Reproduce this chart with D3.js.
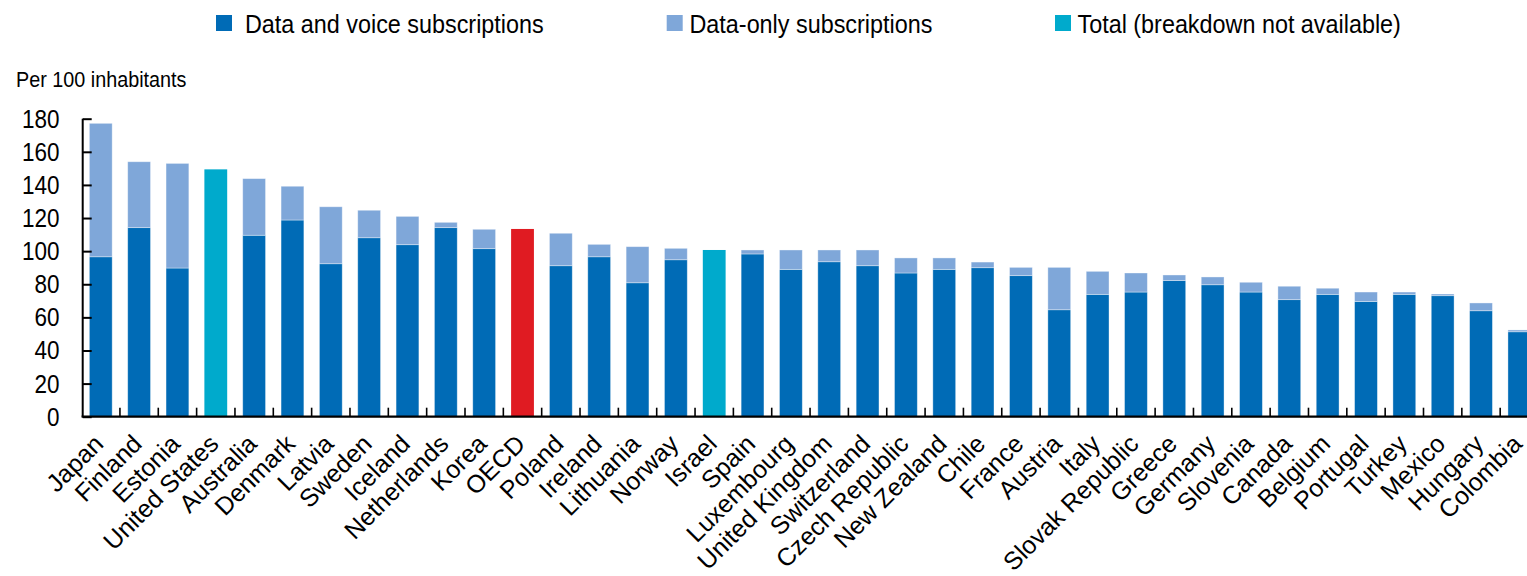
<!DOCTYPE html>
<html>
<head>
<meta charset="utf-8">
<script src="https://cdn.jsdelivr.net/npm/d3@7"></script>
<style>
  html, body { margin: 0; padding: 0; background: #fff; }
  svg { display: block; }
  text { font-family: "Liberation Sans", Arial, sans-serif; fill: #000; }
</style>
</head>
<body>
<svg id="chart" width="1527" height="576"></svg>
<script>
// ---- Data (per 100 inhabitants) ----
const categories = ["Japan","Finland","Estonia","United States","Australia","Denmark","Latvia","Sweden","Iceland","Netherlands","Korea","OECD","Poland","Ireland","Lithuania","Norway","Israel","Spain","Luxembourg","United Kingdom","Switzerland","Czech Republic","New Zealand","Chile","France","Austria","Italy","Slovak Republic","Greece","Germany","Slovenia","Canada","Belgium","Portugal","Turkey","Mexico","Hungary","Colombia"];
const dataAndVoice = [96.6,114.2,89.8,null,109.6,118.8,92.4,108.1,103.9,114.2,101.5,null,91.2,96.6,80.9,94.8,null,98.3,89.0,93.6,91.2,86.8,89.0,90.0,85.2,64.6,73.9,75.3,82.2,79.7,75.3,70.7,73.9,69.6,73.9,73.1,64.0,51.3];
const dataOnly = [80.6,39.8,63.2,null,34.2,20.4,34.4,16.6,17.1,3.2,11.7,null,19.6,7.5,21.8,6.9,null,2.4,11.7,7.1,9.5,9.1,6.9,3.4,5.0,25.6,13.9,11.5,3.4,4.7,5.9,8.1,3.7,5.7,1.4,1.0,4.7,1.1];
const totalOnly = [null,null,null,149.4,null,null,null,null,null,null,null,113.4,null,null,null,null,100.7,null,null,null,null,null,null,null,null,null,null,null,null,null,null,null,null,null,null,null,null,null];
const highlight = "OECD";
const yTicks = [0,20,40,60,80,100,120,140,160,180];
const seriesNames = ["Data and voice subscriptions","Data-only subscriptions","Total (breakdown not available)"];
const yTitle = "Per 100 inhabitants";

// ---- Styles ----
const C_DV = "#006BB6", C_DO = "#7FA7D9", C_TOT = "#00AACC", C_HL = "#E01B22";
const svg = d3.select("#chart");

const x = d3.scaleBand().domain(categories).range([81.6, 81.6 + 38.34 * categories.length]).padding(0);
const y = d3.scaleLinear().domain([0, 180]).range([416.7, 118.7]);
const barW = x.bandwidth() * 0.595;
const bx = d => x(d) + (x.bandwidth() - barW) / 2;

const rows = categories.map((c, i) => ({c, dv: dataAndVoice[i], dO: dataOnly[i], tot: totalOnly[i]}));

const bars = svg.append("g");
bars.selectAll("rect.dv").data(rows.filter(r => r.dv != null)).join("rect")
  .attr("x", r => bx(r.c)).attr("width", barW)
  .attr("y", r => y(r.dv)).attr("height", r => y(0) - y(r.dv))
  .attr("fill", C_DV).attr("stroke", "rgba(255,255,255,0.45)").attr("stroke-width", 0.8);
bars.selectAll("rect.do").data(rows.filter(r => r.dO != null)).join("rect")
  .attr("x", r => bx(r.c)).attr("width", barW)
  .attr("y", r => y(r.dv + r.dO)).attr("height", r => y(r.dv) - y(r.dv + r.dO))
  .attr("fill", C_DO).attr("stroke", "rgba(255,255,255,0.45)").attr("stroke-width", 0.8);
bars.selectAll("rect.tot").data(rows.filter(r => r.tot != null)).join("rect")
  .attr("x", r => bx(r.c)).attr("width", barW)
  .attr("y", r => y(r.tot)).attr("height", r => y(0) - y(r.tot))
  .attr("fill", r => r.c === highlight ? C_HL : C_TOT);

// ---- Y axis ----
const yAxis = svg.append("g").attr("transform", "translate(82.7,0)")
  .call(d3.axisRight(y).tickValues(yTicks).tickSize(9).tickFormat(""));
yAxis.select(".domain").attr("stroke", "#000").attr("stroke-width", 2).attr("d", `M0,${y(180)}V${y(0)}`);
yAxis.selectAll(".tick line").attr("stroke", "#000").attr("stroke-width", 2);
svg.append("g").selectAll("text").data(yTicks).join("text")
  .attr("transform", d => `translate(59.5,${y(d)}) scale(0.9,1)`)
  .attr("text-anchor", "end").attr("dy", "0.36em")
  .style("font-size", "25px").text(d => d);

// ---- X axis ----
const bounds = d3.range(categories.length + 1).map(i => 81.6 + i * x.step());
svg.append("line").attr("x1", 81.6).attr("x2", 1540).attr("y1", y(0)).attr("y2", y(0))
  .attr("stroke", "#000").attr("stroke-width", 2.2);
svg.append("g").selectAll("line").data(bounds.slice(1)).join("line")
  .attr("x1", d => d).attr("x2", d => d).attr("y1", y(0)).attr("y2", y(0) - 9)
  .attr("stroke", "#000").attr("stroke-width", 1.6);
svg.append("g").selectAll("text").data(categories).join("text")
  .attr("transform", d => `translate(${x(d) + x.bandwidth() / 2 - 2},${y(0) + 22.5}) rotate(-45)`)
  .attr("text-anchor", "end").attr("dy", "0.35em")
  .style("font-size", "25px").text(d => d);

// ---- Y title ----
svg.append("text").attr("transform", "translate(16,87) scale(0.9,1)")
  .style("font-size", "22px").text(yTitle);

// ---- Legend ----
const legendPos = [{sx: 216, tx: 245}, {sx: 666.7, tx: 689.5}, {sx: 1055, tx: 1077.5}];
const legendColors = [C_DV, C_DO, C_TOT];
const lg = svg.append("g");
seriesNames.forEach((name, i) => {
  lg.append("rect").attr("x", legendPos[i].sx).attr("y", 15).attr("width", 16).attr("height", 16).attr("fill", legendColors[i]);
  lg.append("text").attr("transform", `translate(${legendPos[i].tx},32.5) scale(0.935,1)`)
    .style("font-size", "25px").text(name);
});
</script>
</body>
</html>
